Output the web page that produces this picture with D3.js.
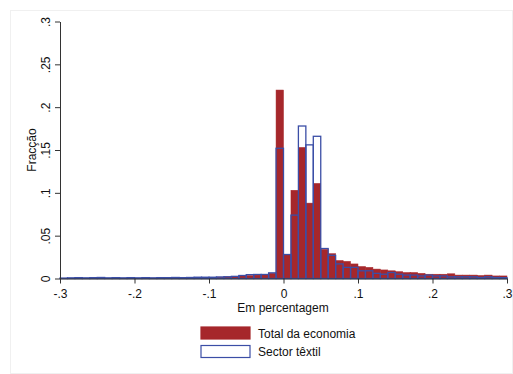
<html>
<head>
    <style>
        body { margin: 0; background: white; font-family: "Liberation Sans", Arial, sans-serif; }
    </style>
    <script src="https://cdn.jsdelivr.net/npm/d3@7"></script>
</head>
<body>
<svg id="chart"></svg>
<script>

// bin left edges, width .01
let binStart = d3.range(60).map(i => -0.3 + i * 0.01)
let binWidth = 0.01

let totalEconomia = [
    0.0003, 0.0003, 0.0003, 0.0003, 0.0003, 0.0003, 0.0003, 0.0003, 0.0003, 0.0003,
    0.0003, 0.0004, 0.0004, 0.0005, 0.0005, 0.0006, 0.0007, 0.0008, 0.0009, 0.001,
    0.0012, 0.0016, 0.002, 0.0024, 0.003, 0.0035, 0.004, 0.0045, 0.0062, 0.220,
    0.028, 0.103, 0.153, 0.088, 0.111, 0.034, 0.029, 0.021, 0.020, 0.017,
    0.014, 0.013, 0.011, 0.010, 0.009, 0.008, 0.007, 0.007, 0.006, 0.005,
    0.005, 0.005, 0.0055, 0.004, 0.004, 0.004, 0.0035, 0.004, 0.003, 0.003
]

let sectorTextil = [
    0.0005, 0.0008, 0.001, 0.0008, 0.001, 0.0012, 0.0008, 0.001, 0.0008, 0.001,
    0.0008, 0.001, 0.0008, 0.001, 0.001, 0.0012, 0.001, 0.0012, 0.0015, 0.0015,
    0.0015, 0.0018, 0.002, 0.0025, 0.0035, 0.0045, 0.0047, 0.0047, 0.0066, 0.152,
    0.028, 0.074, 0.178, 0.156, 0.166, 0.035, 0.027, 0.017, 0.013, 0.013,
    0.009, 0.009, 0.006, 0.005, 0.007, 0.005, 0.004, 0.004, 0.003, 0.004,
    0.003, 0.003, 0.002, 0.002, 0.002, 0.002, 0.0012, 0.002, 0.0012, 0.001
]

let xTicks = [-0.3, -0.2, -0.1, 0, 0.1, 0.2, 0.3]
let yTicks = [0, 0.05, 0.1, 0.15, 0.2, 0.25, 0.3]
let xTickLabels = ["-.3", "-.2", "-.1", "0", ".1", ".2", ".3"]
let yTickLabels = ["0", ".05", ".1", ".15", ".2", ".25", ".3"]

let width = 513
let height = 374
let svg = d3.select("#chart").attr("width", width).attr("height", height)

// faint outer frame
svg.append("rect")
    .attr("x", 10.5).attr("y", 10.5)
    .attr("width", width - 11).attr("height", height - 11)
    .attr("fill", "white").attr("stroke", "#f0f0f0")

let x = d3.scaleLinear().domain([-0.3, 0.3]).range([60, 507])
let y = d3.scaleLinear().domain([0, 0.3]).range([278.5, 21.5])

let red = "#a6272b"
let blue = "#3b4ea6"

svg.append("g").selectAll("rect").data(totalEconomia)
    .enter().append("rect")
    .attr("x", (d, i) => x(binStart[i]))
    .attr("width", x(binWidth) - x(0))
    .attr("y", d => y(d))
    .attr("height", d => y(0) - y(d))
    .attr("fill", red)
    .attr("stroke", red)
    .attr("stroke-width", 0.5)

svg.append("g").selectAll("rect").data(sectorTextil)
    .enter().append("rect")
    .attr("x", (d, i) => x(binStart[i]))
    .attr("width", x(binWidth) - x(0))
    .attr("y", d => y(d))
    .attr("height", d => y(0) - y(d))
    .attr("fill", "none")
    .attr("stroke", blue)
    .attr("stroke-width", 1.3)

let xAxis = d3.axisBottom(x).tickValues(xTicks)
    .tickFormat((d, i) => xTickLabels[i]).tickSize(5).tickSizeOuter(0)
let gx = svg.append("g").attr("transform", `translate(0,${y(0)})`).call(xAxis)
gx.selectAll("text").attr("font-size", 12).attr("fill", "#111")
    .attr("font-family", "Liberation Sans, Arial, sans-serif").attr("dy", "0.95em")
gx.selectAll("line, path").attr("stroke", "#333")

let yAxis = d3.axisLeft(y).tickValues(yTicks)
    .tickFormat((d, i) => yTickLabels[i]).tickSize(5).tickSizeOuter(0)
let gy = svg.append("g").attr("transform", `translate(${x(-0.3)},0)`).call(yAxis)
gy.selectAll("line, path").attr("stroke", "#333")
gy.selectAll("text")
    .attr("font-size", 12).attr("fill", "#111")
    .attr("font-family", "Liberation Sans, Arial, sans-serif")
    .attr("x", 0).attr("dy", 0)
    .attr("text-anchor", "middle")
    .attr("transform", "translate(-10,0) rotate(-90)")

svg.append("text")
    .attr("transform", `translate(36,150) rotate(-90)`)
    .attr("text-anchor", "middle")
    .attr("font-size", 12).attr("fill", "#111")
    .text("Fracção")

svg.append("text")
    .attr("x", 283).attr("y", 312)
    .attr("text-anchor", "middle")
    .attr("font-size", 12).attr("fill", "#111")
    .text("Em percentagem")

// legend
let legend = [
    {label: "Total da economia", fill: red, stroke: red},
    {label: "Sector têxtil", fill: "white", stroke: blue}
]
let lg = svg.append("g")
lg.selectAll("rect").data(legend).enter().append("rect")
    .attr("x", 201).attr("y", (d, i) => 327 + i * 18.5)
    .attr("width", 49).attr("height", 12)
    .attr("fill", d => d.fill).attr("stroke", d => d.stroke).attr("stroke-width", 1.2)
lg.selectAll("text").data(legend).enter().append("text")
    .attr("x", 258).attr("y", (d, i) => 337.5 + i * 18.5)
    .attr("font-size", 12).attr("fill", "#111")
    .text(d => d.label)

</script>
</body>
</html>
